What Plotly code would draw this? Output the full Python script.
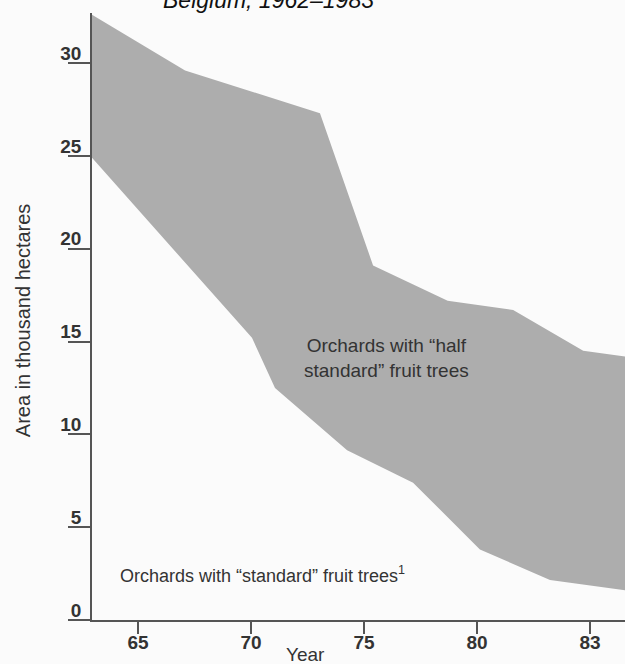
import plotly.graph_objects as go

# Upper boundary: total orchard area (thousand ha); x = position on year axis
upper_x = [62.96, 67.08, 73.05, 75.4, 78.7, 81.6, 84.7, 86.55]
upper_y = [32.6, 29.6, 27.3, 19.1, 17.2, 16.7, 14.5, 14.2]
# Lower boundary: orchards with "standard" fruit trees
lower_x = [62.96, 70.04, 71.06, 74.25, 77.17, 80.13, 83.23, 86.55]
lower_y = [24.9, 15.2, 12.5, 9.15, 7.4, 3.8, 2.15, 1.6]

x_tickvals = [65, 70, 75, 80, 85]
x_ticktext = ["65", "70", "75", "80", "83"]
y_tickvals = [0, 5, 10, 15, 20, 25, 30]

FONT = "Liberation Sans, Arial, sans-serif"
FILL = "#adadad"
AX = "#555555"
TXT = "#333333"

fig = go.Figure()
fig.add_trace(go.Scatter(
    x=upper_x + lower_x[::-1],
    y=upper_y + lower_y[::-1],
    fill="toself", fillcolor=FILL, mode="lines",
    line=dict(width=0, color=FILL), hoverinfo="skip", showlegend=False,
))

fig.update_layout(
    width=625, height=664,
    margin=dict(l=92, r=0, t=13, b=44),
    paper_bgcolor="#fbfbfb", plot_bgcolor="#fbfbfb",
    font=dict(family=FONT, color=TXT),
    showlegend=False,
    xaxis=dict(
        range=[62.96, 86.55], showgrid=False, zeroline=False,
        showline=True, linecolor=AX, linewidth=1.5,
        tickmode="array", tickvals=x_tickvals, ticktext=x_ticktext,
        ticks="outside", ticklen=12, tickcolor=AX, tickwidth=1.5,
        tickfont=dict(size=19, weight="bold", color=TXT),
        ticklabelstandoff=-8,
    ),
    yaxis=dict(
        range=[0, 32.7], showgrid=False, zeroline=False,
        showline=True, linecolor=AX, linewidth=1.5,
        tickmode="array", tickvals=y_tickvals,
        ticks="outside", ticklen=22, tickcolor=AX, tickwidth=1.5,
        tickfont=dict(size=19, weight="bold", color=TXT),
        ticklabelshift=-10, ticklabelstandoff=-17,
    ),
)

fig.add_annotation(text="Year", xref="x", yref="paper", x=72.4, y=0,
                   yanchor="middle", yshift=-34, showarrow=False,
                   font=dict(size=19, color=TXT))
fig.add_annotation(text="Area in thousand hectares", xref="paper", yref="paper",
                   x=0, xanchor="center", xshift=-69, y=0.494, yanchor="middle",
                   textangle=-90, showarrow=False, font=dict(size=20, color=TXT))
fig.add_annotation(text="Orchards with \u201chalf<br>standard\u201d fruit trees",
                   xref="x", yref="y", x=76.0, y=14.1, showarrow=False,
                   font=dict(size=19, color=TXT), align="center")
fig.add_annotation(text="Orchards with \u201cstandard\u201d fruit trees<sup>1</sup>",
                   xref="x", yref="y", x=64.1, y=2.43, xanchor="left",
                   showarrow=False, font=dict(size=18, color=TXT))
fig.add_annotation(text="<i>Belgium, 1962\u20131983</i>", xref="paper", yref="paper",
                   x=(268 - 92) / 533, xanchor="center", y=1, yanchor="middle",
                   yshift=13, showarrow=False, font=dict(size=23, color="#111111"))

fig.write_html("out.html", config={"displayModeBar": False},
               post_script="document.body.style.margin='0';")
